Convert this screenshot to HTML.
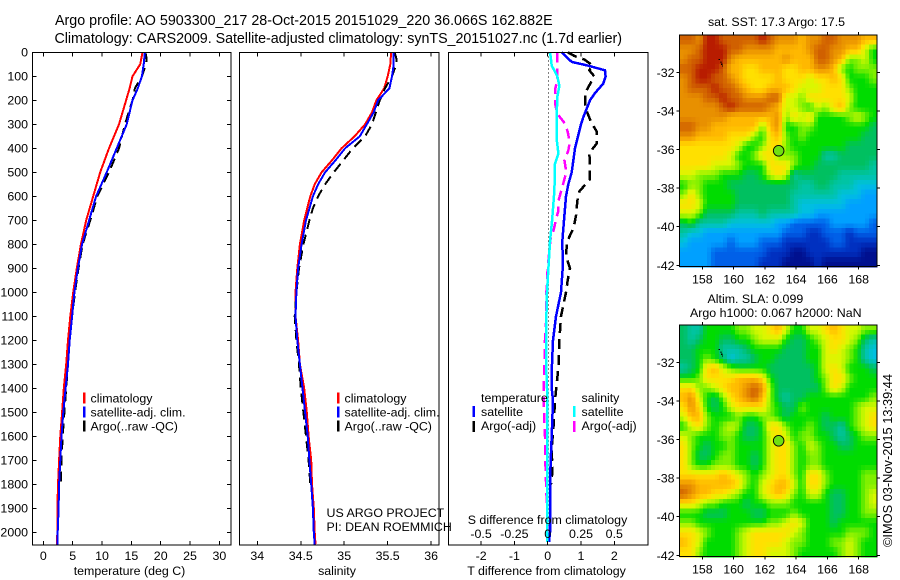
<!DOCTYPE html>
<html>
<head>
<meta charset="utf-8">
<title>Argo profile</title>
<style>
html,body{margin:0;padding:0;background:#fff;}
svg{display:block;}
text{font-family:"Liberation Sans",Arial,sans-serif;font-size:12.4px;fill:#000;}
.title{font-size:14.3px;}
.credit{font-size:12.8px;}
</style>
</head>
<body>
<svg id="chart" xmlns="http://www.w3.org/2000/svg" width="900" height="580" viewBox="0 0 900 580">
  <rect x="0" y="0" width="900" height="580" fill="#fff"/>
  <text class="title" x="55" y="25">Argo profile: AO 5903300_217 28-Oct-2015 20151029_220 36.066S 162.882E</text>
  <text class="title" x="54.5" y="43" textLength="567.5">Climatology: CARS2009. Satellite-adjusted climatology: synTS_20151027.nc (1.7d earlier)</text>
  <g id="marks"></g>
  <text x="129.5" y="575" text-anchor="middle">temperature (deg C)</text>
  <text x="337" y="575" text-anchor="middle">salinity</text>
  <text x="546.5" y="575" text-anchor="middle">T difference from climatology</text>
  <text x="547.5" y="524" text-anchor="middle">S difference from climatology</text>
  <text x="326.5" y="517">US ARGO PROJECT</text>
  <text x="326.5" y="531">PI: DEAN ROEMMICH</text>
  <text x="776.5" y="26" text-anchor="middle">sat. SST: 17.3 Argo: 17.5</text>
  <text x="707.5" y="303">Altim. SLA: 0.099</text>
  <text x="690" y="317">Argo h1000: 0.067 h2000: NaN</text>
  <text class="credit" transform="translate(892,547) rotate(-90)">©IMOS 03-Nov-2015 13:39:44</text>
</svg>
<script>
// ---------- data ----------
const tempTicks = [0,5,10,15,20,25,30];
const salTicks = [34,34.5,35,35.5,36];
const tDiffTicks = [-2,-1,0,1,2];
const sDiffTicks = [-0.5,-0.25,0,0.25,0.5];
const depthTicks = [0,100,200,300,400,500,600,700,800,900,1000,1100,1200,1300,1400,1500,1600,1700,1800,1900,2000];
const lonTicks = [158,160,162,164,166,168];
const latTicks = [-32,-34,-36,-38,-40,-42];

const climDepth = [0,50,100,150,200,300,400,500,600,700,800,900,1000,1100,1200,1300,1400,1500,1600,1700,1800,1900,2000,2050];
const climTemp = [16.9,16.5,15.2,14.7,14.1,12.9,11.2,9.7,8.5,7.3,6.4,5.7,5.1,4.6,4.2,3.9,3.5,3.2,2.9,2.7,2.5,2.4,2.4,2.3];
const satTemp = [17.3,17.1,16.8,16.1,15.2,14.2,12.5,10.8,9.0,7.8,6.6,5.9,5.3,4.9,4.5,4.2,3.8,3.4,3.1,2.9,2.7,2.6,2.45,2.45];
const argoTempDepth = [0,25,50,100,150,200,300,400,500,600,700,800,900,1000,1100,1200,1300,1400,1500,1600,1700,1800];
const argoTemp = [17.4,17.6,17.5,16.8,15.6,15.2,13.9,12.9,11.2,9.2,8.0,6.7,6.0,5.4,4.9,4.5,4.2,3.9,3.6,3.3,3.1,3.0];

const salDepth = [0,50,100,150,200,250,300,350,400,450,500,550,600,700,800,900,1000,1100,1200,1300,1400,1500,1600,1700,1800,1900,2000,2050];
const climSal = [35.54,35.53,35.50,35.46,35.37,35.32,35.24,35.12,34.97,34.86,34.74,34.66,34.61,34.54,34.49,34.46,34.44,34.44,34.47,34.49,34.54,34.57,34.59,34.62,34.63,34.65,34.66,34.67];
const satSal = [35.57,35.57,35.55,35.52,35.39,35.34,35.26,35.18,35.01,34.90,34.78,34.70,34.64,34.56,34.51,34.47,34.45,34.44,34.46,34.49,34.52,34.55,34.58,34.60,34.62,34.64,34.65,34.66];
const argoSalDepth = [0,25,50,100,150,200,300,350,400,450,500,550,600,650,700,800,900,1000,1100,1200,1300,1400,1500,1600,1700,1800];
const argoSal = [35.58,35.60,35.60,35.55,35.47,35.41,35.32,35.24,35.10,34.99,34.88,34.78,34.70,34.64,34.60,34.53,34.48,34.45,34.43,34.45,34.48,34.50,34.53,34.56,34.59,34.61];

const satTDiffDepth = [0,40,54,75,100,130,170,200,270,300,400,500,550,600,700,783,900,1000,1100,1200,1300,1400,1450,1600,1700,1800,1900,2000,2040];
const satTDiff = [0.42,0.72,1.17,1.72,1.74,1.67,1.42,1.27,1.07,1.0,0.82,0.72,0.62,0.55,0.49,0.44,0.45,0.40,0.25,0.16,0.13,0.12,0.16,0.12,0.09,0.07,0.07,0.07,0.04];
const argoTDiffDepth = [0,15,30,55,75,100,125,170,230,290,330,380,420,470,530,580,620,680,730,790,850,900,950,1000,1100,1200,1300,1450,1550,1650,1750,1800];
const argoTDiff = [0.6,0.8,1.1,1.35,1.25,1.4,1.3,1.12,1.13,1.3,1.47,1.47,1.25,1.27,1.26,0.95,0.89,0.85,0.78,0.58,0.55,0.67,0.6,0.55,0.4,0.35,0.33,0.22,0.18,0.12,0.14,0.1];
const satSDiffDepth = [0,55,100,140,186,255,366,422,464,575,700,783,900,1000,1100,1300,1400,1700,2000,2040];
const satSDiff = [0.018,0.03,0.072,0.088,0.072,0.068,0.068,0.08,0.055,0.05,0.033,0.018,0.005,-0.005,-0.01,-0.012,-0.005,-0.005,-0.005,-0.002];
const argoSDiffDepth = [0,20,75,100,125,155,210,255,290,330,375,410,450,500,550,580,620,660,690,740,780,900,1000,1100,1200,1300,1400,1500,1600,1700,1800,1900,2000];
const argoSDiff = [0.07,0.07,0.07,0.07,0.07,0.055,0.055,0.07,0.12,0.15,0.165,0.155,0.125,0.14,0.115,0.1,0.08,0.08,0.065,0.045,0.02,0,-0.01,-0.01,-0.02,-0.025,-0.03,-0.028,-0.02,-0.018,-0.012,-0.005,0];

const sstGrid = [
"ddceedddddedcccbccddcccbb",
"ccdeeeddccccbbbbcddccbb97",
"cddeeecbbbbbbcbbbddcb8897",
"ddeeedbbaabbbaabbccb87888",
"cdeeddcbaaaabaaa9aaba7778",
"cdddeddcbaabbba999aaa8777",
"cccddeddcccdd998aaaaa9777",
"cccccdeddddcb998798ab8777",
"ccccccbbbbbbc8a9a77778987",
"ddccbbbbbb8bc778877777776",
"ccbbbbaaa87ab878777777766",
"aaaaaaa9778aa877777776666",
"aaaaaa9778aa8887775566666",
"aaaa9998777aaa87766666665",
"998887776679a956666655555",
"7887776666666665566555444",
"8a87777666666655555544433",
"aa97777666666654444443333",
"9986666555655554433333333",
"6755554444443322222333332",
"5443333333333222112221222",
"4333332333222111111221111",
"3333222222211100111111100",
"3333222222111000010000000"
];
const slaGrid = [
"65577778899ab97799aba9988",
"6567766778999766789aa9865",
"6677755567777666779a98754",
"6678764556776666779998754",
"567ab98777766666679a97776",
"778aaaabbba76666678aa8777",
"aa889abbcdc86666668a97777",
"bc9768abcdb86566777777778",
"aca7679aaaa87668777777899",
"9bb877787788767777677789a",
"79a87898667aa87787665789a",
"987778876679a978877656788",
"a87677877779aa87987766777",
"a86678877679aa87887777777",
"a87788877679aa87887777777",
"aaaaaba98789aa87aa8777788",
"ccbbbbba879abb97aa8777788",
"dcbbaa98779aba87997667789",
"aa98877767788877777667789",
"7776667776677787777667788",
"88777777777889a9777677777",
"aa9877789aaaaa98777778887",
"ba9777789aaaa988777889877",
"aa8777789aa99987777789877"
];
const colormap = [[0,16,143],[0,48,192],[0,96,232],[0,160,255],[0,192,224],[0,196,164],[0,192,96],[0,220,0],[128,240,0],[216,248,0],[255,224,0],[255,184,0],[232,144,0],[208,96,0],[184,28,0]];
const floatLon = 162.882;
const floatLat = -36.066;
const trackLon = [159.05,159.15,159.2,159.25];
const trackLat = [-31.3,-31.45,-31.55,-31.65];

// ---------- axes ----------
const NS = "http://www.w3.org/2000/svg";
const root = document.getElementById("marks");
const TOP = 52.5, BOTTOM = 545;
function yDepth(d){ return 52.3 + d * 0.24; }
function xTemp(t){ return 43.3 + t * 5.87; }
function xSal(s){ return 257.3 + (s - 34) * 86.9; }
function xTDiff(d){ return 547.7 + d * 33.3; }
function xSDiff(s){ return 547.7 + s * 133.2; }
function xLon(lon){ return 702.3 + (lon - 158) * 15.64; }
function ySstLat(lat){ return 72.3 + (-32 - lat) * 19.3; }
function ySlaLat(lat){ return 362.3 + (-32 - lat) * 19.3; }

function svgEl(tag, attrs, parent){
  const el = document.createElementNS(NS, tag);
  for (const k in attrs) el.setAttribute(k, attrs[k]);
  (parent || root).appendChild(el);
  return el;
}
function tickLine(x1, y1, x2, y2, name){
  const el = svgEl("line", {x1:x1, y1:y1, x2:x2, y2:y2, stroke:"#000", "stroke-width":1, "shape-rendering":"crispEdges"});
  
  
  return el;
}
function label(x, y, str, anchor, name){
  const el = svgEl("text", {x:x, y:y, "text-anchor":anchor});
  el.textContent = str;
  
  
  return el;
}
function frame(x, y, w, h, name){
  const el = svgEl("rect", {x:x, y:y, width:w, height:h, fill:"none", stroke:"#000", "stroke-width":1, "shape-rendering":"crispEdges"});
  
  
  return el;
}
function series(xs, ys, xFn, color, dash, width, name){
  const pts = xs.map(function(v, i){ return xFn(v).toFixed(1) + "," + yDepth(ys[i]).toFixed(1); }).join(" ");
  const attrs = {points:pts, fill:"none", stroke:color, "stroke-width":width, "shape-rendering":"crispEdges"};
  if (dash) attrs["stroke-dasharray"] = dash;
  const el = svgEl("polyline", attrs);
  
  
  return el;
}
function legendBar(x, y, color, name){
  const el = svgEl("rect", {x:x, y:y, width:2.5, height:11, fill:color, "shape-rendering":"crispEdges"});
  
  
  return el;
}

// ---------- temperature panel ----------
series(climTemp, climDepth, xTemp, "#ff0000", null, 2, "climatology-temperature-line");
series(argoTemp, argoTempDepth, xTemp, "#000", "10 6", 2, "argo-temperature-line");
series(satTemp, climDepth, xTemp, "#0000ff", null, 2, "satellite-temperature-line");
frame(32.5, TOP, 198.5, BOTTOM - TOP, "temperature-panel-frame");
tempTicks.forEach(function(t){
  tickLine(xTemp(t), TOP, xTemp(t), TOP + 4, "temperature-top-tick");
  tickLine(xTemp(t), BOTTOM - 4, xTemp(t), BOTTOM, "temperature-bottom-tick");
  label(xTemp(t), 560, String(t), "middle", "temperature-tick-label");
});
depthTicks.forEach(function(d){
  tickLine(32.5, yDepth(d), 36.5, yDepth(d), "depth-left-tick");
  tickLine(227, yDepth(d), 231, yDepth(d), "depth-right-tick");
  label(28, yDepth(d) + 4, String(d), "end", "depth-tick-label");
});

// ---------- salinity panel ----------
series(climSal, salDepth, xSal, "#ff0000", null, 2, "climatology-salinity-line");
series(argoSal, argoSalDepth, xSal, "#000", "10 6", 2, "argo-salinity-line");
series(satSal, salDepth, xSal, "#0000ff", null, 2, "satellite-salinity-line");
frame(239.5, TOP, 199.5, BOTTOM - TOP, "salinity-panel-frame");
salTicks.forEach(function(s){
  tickLine(xSal(s), TOP, xSal(s), TOP + 4, "salinity-top-tick");
  tickLine(xSal(s), BOTTOM - 4, xSal(s), BOTTOM, "salinity-bottom-tick");
  label(xSal(s), 560, String(s), "middle", "salinity-tick-label");
});

// ---------- difference panel ----------
const zeroLine = svgEl("line", {x1:xTDiff(0)+1, y1:TOP, x2:xTDiff(0)+1, y2:BOTTOM, stroke:"#000", "stroke-width":1, "stroke-dasharray":"1 3", "shape-rendering":"crispEdges"});


series(argoTDiff, argoTDiffDepth, xTDiff, "#000", "10 6", 2.5, "argo-t-difference-line");
series(satTDiff, satTDiffDepth, xTDiff, "#0000ff", null, 2.5, "satellite-t-difference-line");
series(argoSDiff, argoSDiffDepth, xSDiff, "#ff00ff", "10 6", 2.5, "argo-s-difference-line");
series(satSDiff, satSDiffDepth, xSDiff, "#00ffff", null, 2.5, "satellite-s-difference-line");
frame(448.5, TOP, 199.5, BOTTOM - TOP, "difference-panel-frame");
tDiffTicks.forEach(function(d){
  tickLine(xTDiff(d), TOP, xTDiff(d), TOP + 4, "t-difference-top-tick");
  tickLine(xTDiff(d), BOTTOM - 4, xTDiff(d), BOTTOM, "t-difference-bottom-tick");
  label(xTDiff(d), 560, String(d), "middle", "t-difference-tick-label");
});
sDiffTicks.forEach(function(s){
  label(xSDiff(s), 538, String(s), "middle", "s-difference-tick-label");
});

// ---------- legends ----------
legendBar(83, 392.7, "#ff0000", "temperature-legend-climatology-marker");
legendBar(83, 406.5, "#0000ff", "temperature-legend-satellite-marker");
legendBar(83, 420.5, "#000", "temperature-legend-argo-marker");
label(90.5, 402.5, "climatology", "start", "temperature-legend-climatology");
label(90.5, 416.5, "satellite-adj. clim.", "start", "temperature-legend-satellite");
label(90.5, 430.5, "Argo(..raw -QC)", "start", "temperature-legend-argo");
legendBar(337, 392.7, "#ff0000", "salinity-legend-climatology-marker");
legendBar(337, 406.5, "#0000ff", "salinity-legend-satellite-marker");
legendBar(337, 420.5, "#000", "salinity-legend-argo-marker");
label(344.5, 402.5, "climatology", "start", "salinity-legend-climatology");
label(344.5, 416.5, "satellite-adj. clim.", "start", "salinity-legend-satellite");
label(344.5, 430.5, "Argo(..raw -QC)", "start", "salinity-legend-argo");
label(481, 402, "temperature", "start", "difference-legend-temperature-heading");
label(481, 416, "satellite", "start", "difference-legend-t-satellite");
label(481, 430, "Argo(-adj)", "start", "difference-legend-t-argo");
label(581.5, 402, "salinity", "start", "difference-legend-salinity-heading");
label(581.5, 416, "satellite", "start", "difference-legend-s-satellite");
label(581.5, 430, "Argo(-adj)", "start", "difference-legend-s-argo");
legendBar(472.5, 406, "#0000ff", "difference-legend-t-satellite-marker");
legendBar(472.5, 421, "#000", "difference-legend-t-argo-marker");
legendBar(573, 406, "#00ffff", "difference-legend-s-satellite-marker");
legendBar(573, 421, "#ff00ff", "difference-legend-s-argo-marker");

// ---------- maps ----------
function levelColor(v){
  const i = Math.min(Math.floor(v), colormap.length - 2);
  const f = v - i;
  const a = colormap[i], b = colormap[i + 1];
  return "rgb(" + Math.round(a[0] + (b[0] - a[0]) * f) + "," + Math.round(a[1] + (b[1] - a[1]) * f) + "," + Math.round(a[2] + (b[2] - a[2]) * f) + ")";
}
function gridValue(grid, u, v){
  const rows = grid.length, cols = grid[0].length;
  const cu = Math.max(0, Math.min(cols - 1, u));
  const cv = Math.max(0, Math.min(rows - 1, v));
  const c0 = Math.floor(cu), r0 = Math.floor(cv);
  const c1 = Math.min(cols - 1, c0 + 1), r1 = Math.min(rows - 1, r0 + 1);
  const fu = cu - c0, fv = cv - r0;
  const at = function(r, c){ return parseInt(grid[r].charAt(c), 16); };
  return (at(r0, c0) * (1 - fu) + at(r0, c1) * fu) * (1 - fv) + (at(r1, c0) * (1 - fu) + at(r1, c1) * fu) * fv;
}
function drawMap(grid, top, bottom, yFn, prefix){
  const left = 679.5, right = 877;
  const rows = grid.length * 2;
  const cols = grid[0].length * 2;
  const cw = (right - left) / cols;
  const ch = (bottom - top) / rows;
  for (let r = 0; r < rows; r++) {
    for (let c = 0; c < cols; c++) {
      const level = gridValue(grid, (c + 0.5) / 2 - 0.5, (r + 0.5) / 2 - 0.5);
      const cell = svgEl("rect", {x:(left + c * cw).toFixed(2), y:(top + r * ch).toFixed(2), width:(cw + 0.6).toFixed(2), height:(ch + 0.6).toFixed(2), fill:levelColor(level), "shape-rendering":"crispEdges"});
      
      
    }
  }
  frame(left, top, right - left, bottom - top, prefix + "-map-frame");
  lonTicks.forEach(function(lon){
    tickLine(xLon(lon), top - 3, xLon(lon), top, prefix + "-lon-top-tick");
    tickLine(xLon(lon), bottom, xLon(lon), bottom + 3, prefix + "-lon-bottom-tick");
    label(xLon(lon), bottom + 17, String(lon), "middle", prefix + "-lon-tick-label");
  });
  latTicks.forEach(function(lat){
    tickLine(left - 3, yFn(lat), left, yFn(lat), prefix + "-lat-left-tick");
    tickLine(right, yFn(lat), right + 3, yFn(lat), prefix + "-lat-right-tick");
    label(674.5, yFn(lat) + 4.5, String(lat), "end", prefix + "-lat-tick-label");
  });
  trackLon.forEach(function(lon, i){
    const dot = svgEl("rect", {x:xLon(lon).toFixed(1), y:yFn(trackLat[i]).toFixed(1), width:1.2, height:1.2, fill:"#000", "shape-rendering":"crispEdges"});
    
    
  });
  const marker = svgEl("circle", {cx:xLon(floatLon), cy:yFn(floatLat), r:5.3, fill:"#70e010", stroke:"#000", "stroke-width":0.9});
  
  
}
drawMap(sstGrid, 35, 266.7, ySstLat, "sst");
drawMap(slaGrid, 325, 556.7, ySlaLat, "sla");
</script>
</body>
</html>
